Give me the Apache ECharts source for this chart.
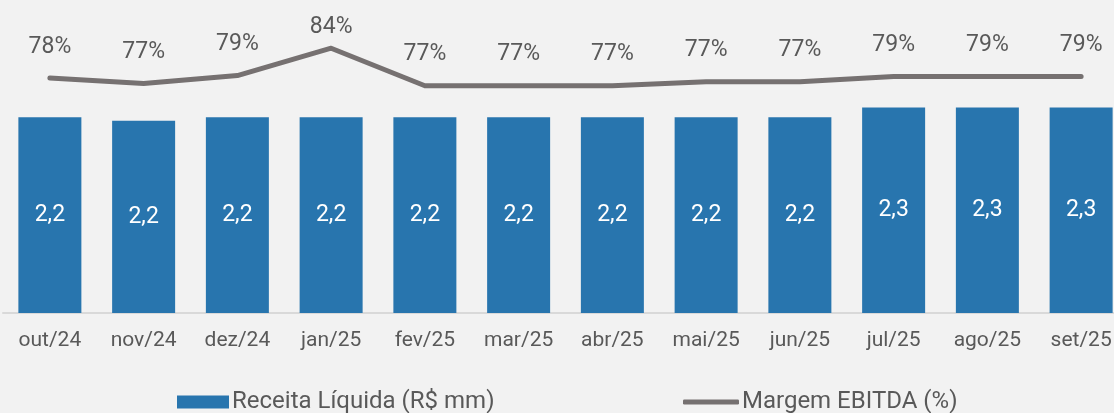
<!DOCTYPE html>
<html>
<head>
<meta charset="utf-8">
<script src="https://cdn.jsdelivr.net/npm/echarts@6/dist/echarts.min.js"></script>
<style>
  html, body { margin: 0; padding: 0; background: #f2f2f2; }
  #chart { width: 1114px; height: 413px; }
</style>
</head>
<body>
<div id="chart"></div>
<script>
  // dados
  var meses = ['out/24', 'nov/24', 'dez/24', 'jan/25', 'fev/25', 'mar/25', 'abr/25', 'mai/25', 'jun/25', 'jul/25', 'ago/25', 'set/25'];
  var receita = [2.22, 2.18, 2.22, 2.22, 2.22, 2.22, 2.22, 2.22, 2.22, 2.33, 2.33, 2.33];
  var margem = [78.2, 77.0, 78.7, 84.45, 76.55, 76.55, 76.55, 77.4, 77.4, 78.5, 78.5, 78.5];

  var chart = echarts.init(document.getElementById('chart'));
  chart.setOption({
    backgroundColor: '#f2f2f2',
    animation: false,
    grid: { left: 3, width: 1125, top: 0, bottom: 100, outerBoundsMode: 'none', containLabel: false },
    legend: [
      {
        data: [{ name: 'Receita Líquida (R$ mm)', icon: 'rect' }],
        left: 177, top: 390, padding: 0,
        itemWidth: 52, itemHeight: 13, itemGap: 3,
        textStyle: { fontFamily: 'Roboto', fontSize: 24, color: '#595959', padding: [0, 0, 0, -2] }
      },
      {
        data: [{ name: 'Margem EBITDA (%)', icon: 'roundRect' }],
        left: 683, top: 390, padding: 0,
        itemWidth: 56, itemHeight: 5,
        itemStyle: { color: '#767171', opacity: 1 },
        textStyle: { fontFamily: 'Roboto', fontSize: 24, color: '#595959', padding: [0, 0, 0, -2] }
      }
    ],
    xAxis: {
      type: 'category',
      data: meses,
      axisTick: { show: false },
      axisLine: { lineStyle: { color: '#d9d9d9', width: 2 } },
      axisLabel: { fontFamily: 'Roboto', fontSize: 21, color: '#595959', margin: 17 }
    },
    yAxis: [
      { type: 'value', min: 0, max: 3.55, show: false, splitLine: { show: false } },
      { type: 'value', min: 28.71, max: 94.6, show: false, splitLine: { show: false } }
    ],
    series: [
      {
        name: 'Receita Líquida (R$ mm)',
        type: 'bar',
        barWidth: 63,
        data: receita,
        itemStyle: { color: '#2875ae' },
        label: {
          show: true,
          position: 'inside',
          color: '#ffffff',
          fontFamily: 'Roboto',
          fontSize: 23,
          formatter: function (p) { return p.value.toFixed(1).replace('.', ','); }
        }
      },
      {
        name: 'Margem EBITDA (%)',
        type: 'line',
        yAxisIndex: 1,
        symbol: 'circle',
        symbolSize: 1,
        showSymbol: true,
        data: margem.map(function (v, i) {
          return i === 3 ? { value: v, label: { distance: 9 } } : v;
        }),
        lineStyle: { color: '#767171', width: 5, cap: 'round', join: 'round' },
        itemStyle: { color: 'rgba(118,113,113,0)', borderWidth: 0 },
        label: {
          show: true,
          position: 'top',
          distance: 19,
          color: '#595959',
          fontFamily: 'Roboto',
          fontSize: 23,
          formatter: function (p) { return Math.round(p.value) + '%'; }
        },
        labelLayout: { hideOverlap: false }
      }
    ]
  });
</script>
</body>
</html>
